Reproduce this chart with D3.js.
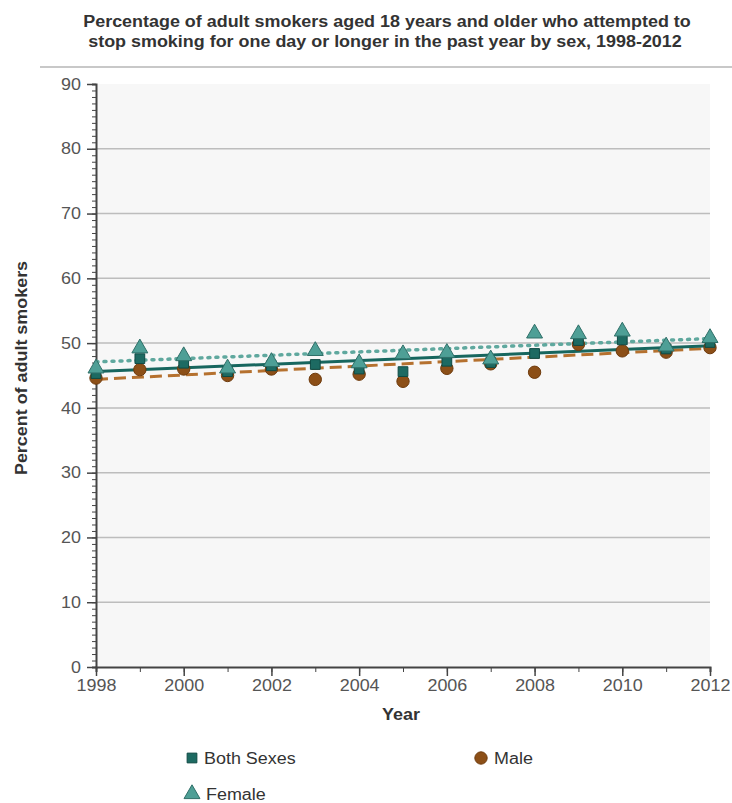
<!DOCTYPE html>
<html><head><meta charset="utf-8">
<script src="https://cdn.jsdelivr.net/npm/d3@7"></script>
<style>body{margin:0;background:#fff;} svg{display:block;font-family:"Liberation Sans",Arial,sans-serif;}</style>
</head><body>
<svg id="chart" width="732" height="803"></svg>
<script>
const years = [1998,1999,2000,2001,2002,2003,2004,2005,2006,2007,2008,2009,2010,2011,2012];
const bothSexes = [45.3,47.6,46.9,45.6,46.5,46.7,46.0,45.6,47.2,47.0,48.4,50.4,50.5,49.1,50.1];
const male      = [44.6,45.9,46.0,45.0,46.0,44.4,45.2,44.1,46.1,46.8,45.5,49.8,48.8,48.6,49.3];
const female    = [46.1,49.2,48.0,46.1,47.1,48.8,46.9,48.3,48.5,47.5,51.5,51.4,51.8,49.5,50.8];
const trendYears = [1998,2012];
const trendBoth   = [45.6,49.6];
const trendMale   = [44.4,49.2];
const trendFemale = [47.1,50.7];
const yTicks = [0,10,20,30,40,50,60,70,80,90];
const xTicks = [1998,2000,2002,2004,2006,2008,2010,2012];
const titleLines = ["Percentage of adult smokers aged 18 years and older who attempted to","stop smoking for one day or longer in the past year by sex, 1998-2012"];

const svg = d3.select("#chart");
const L=96,R=710,T=84,B=667;
const x = d3.scaleLinear().domain([1998,2012]).range([L,R]);
const y = d3.scaleLinear().domain([0,90]).range([B,T]);

// title
svg.selectAll("text.title").data(titleLines).join("text").attr("class","title")
  .attr("x",(d,i)=>i===0?387:385).attr("y",(d,i)=>27+i*20).attr("text-anchor","middle")
  .attr("font-size",16).attr("font-weight","bold").attr("fill","#333").text(d=>d);
svg.append("line").attr("x1",40).attr("x2",732).attr("y1",67).attr("y2",67).attr("stroke","#c8c8c8").attr("stroke-width",2);

// plot bg
svg.append("rect").attr("x",L).attr("y",T).attr("width",R-L).attr("height",B-T).attr("fill","#f7f7f7");
// grid
svg.append("g").selectAll("line").data(yTicks.filter(d=>d>0&&d<90)).join("line")
  .attr("x1",L).attr("x2",R).attr("y1",d=>y(d)).attr("y2",d=>y(d)).attr("stroke","#bdbdbd").attr("stroke-width",1.5);

// y axis
const yMinor = d3.range(0,91,1);
const ya = svg.append("g").attr("transform",`translate(${L},0)`);
ya.call(d3.axisLeft(y).tickValues(yMinor).tickSize(4).tickFormat(""));
ya.selectAll(".domain").attr("stroke","#444").attr("stroke-width",2);
ya.selectAll(".tick line").attr("stroke","#444");
const yb = svg.append("g").attr("transform",`translate(${L},0)`);
yb.call(d3.axisLeft(y).tickValues(yTicks).tickSize(9).tickPadding(6));
yb.select(".domain").remove();
yb.selectAll(".tick line").attr("stroke","#444").attr("stroke-width",1.5);
yb.selectAll(".tick text").attr("font-size",16).attr("fill","#555").attr("font-family","Liberation Sans, Arial, sans-serif");

// x axis
const xMinor = d3.range(1998,2013,1);
const xa = svg.append("g").attr("transform",`translate(0,${B})`);
xa.call(d3.axisBottom(x).tickValues(xMinor).tickSize(5).tickFormat(""));
xa.selectAll(".domain").attr("stroke","#444").attr("stroke-width",2);
xa.selectAll(".tick line").attr("stroke","#444");
const xb = svg.append("g").attr("transform",`translate(0,${B})`);
xb.call(d3.axisBottom(x).tickValues(xTicks).tickSize(9).tickPadding(4).tickFormat(d3.format("d")));
xb.select(".domain").remove();
xb.selectAll(".tick line").attr("stroke","#444").attr("stroke-width",1.5);
xb.selectAll(".tick text").attr("font-size",16).attr("fill","#555").attr("font-family","Liberation Sans, Arial, sans-serif");

svg.append("text").attr("x",401).attr("y",720).attr("text-anchor","middle").attr("font-size",16).attr("font-weight","bold").attr("fill","#333").text("Year");
svg.append("text").attr("transform","translate(27,368) rotate(-90)").attr("text-anchor","middle").attr("font-size",16).attr("font-weight","bold").attr("fill","#333").text("Percent of adult smokers");

// trend lines
const line = d3.line().x(d=>x(d[0])).y(d=>y(d[1]));
const trends = [
  {v:trendFemale,c:"#5fa89e",dash:"2,6",w:3.5,cap:"round"},
  {v:trendMale,c:"#b5712f",dash:"12,6",w:3,cap:"butt"},
  {v:trendBoth,c:"#17665e",dash:null,w:3,cap:"butt"}
];
trends.forEach(t=>{
  svg.append("path").datum(trendYears.map((yr,i)=>[yr,t.v[i]])).attr("d",line)
    .attr("fill","none").attr("stroke",t.c).attr("stroke-width",t.w).attr("stroke-dasharray",t.dash).attr("stroke-linecap",t.cap);
});

// markers
const circ = d3.symbol().type(d3.symbolCircle).size(120);
const sq = d3.symbol().type(d3.symbolSquare).size(95);
const tri = d3.symbol().type(d3.symbolTriangle).size(110);
function markers(data,sym,fill,stroke){
  svg.append("g").selectAll("path").data(data).join("path")
    .attr("d",sym).attr("transform",(d,i)=>`translate(${x(years[i])},${y(d)})`)
    .attr("fill",fill).attr("stroke",stroke).attr("stroke-width",1);
}
markers(male,circ,"#8c4f17","#6e3a0c");
markers(bothSexes,sq,"#1d6a62","#0f4a44");
markers(female,tri,"#4e9f96","#2f6f68");

// legend
const lg = svg.append("g");
lg.append("path").attr("d",sq).attr("transform","translate(192,758)").attr("fill","#1d6a62").attr("stroke","#0f4a44");
lg.append("text").attr("x",204).attr("y",764).attr("font-size",16).attr("fill","#333").text("Both Sexes");
lg.append("path").attr("d",circ).attr("transform","translate(481,758)").attr("fill","#8c4f17").attr("stroke","#6e3a0c");
lg.append("text").attr("x",494).attr("y",764).attr("font-size",16).attr("fill","#333").text("Male");
lg.append("path").attr("d",tri).attr("transform","translate(192,794)").attr("fill","#4e9f96").attr("stroke","#2f6f68");
lg.append("text").attr("x",206).attr("y",800).attr("font-size",16).attr("fill","#333").text("Female");

// widen all text slightly to match the reference's wider glyph set
svg.selectAll("text").each(function(){
  const n = this.getComputedTextLength();
  if(n>0) d3.select(this).attr("textLength",n*1.12).attr("lengthAdjust","spacingAndGlyphs");
});
</script>
</body></html>
